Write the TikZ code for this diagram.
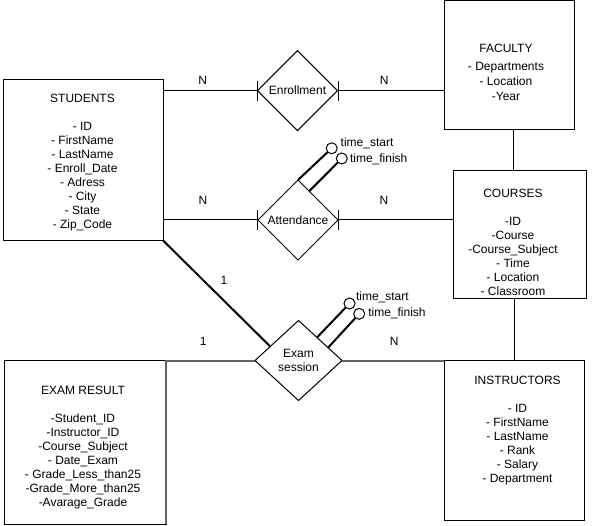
\documentclass[tikz,border=0pt]{standalone}
\usepackage{fontspec}
\setmainfont{Liberation Sans}
\usetikzlibrary{shapes.geometric,arrows.meta,calc}
\definecolor{linegray}{RGB}{100,100,100}
\begin{document}
\begin{tikzpicture}[x=1pt,y=-1pt,line width=1pt,
  every node/.style={font=\fontsize{12}{14}\selectfont, inner sep=0pt, outer sep=0pt},
  entbox/.style={draw, rectangle},
  relbox/.style={draw, diamond, aspect=1, fill=white},
  attrcirc/.style={draw, circle, minimum size=11pt, fill=white},
  thickline/.style={line width=2pt},
  grayline/.style={line width=2pt, draw=linegray},
  tick/.style={-{Bar[width=20pt]}},
  ticks/.style={{Bar[width=20pt]}-}
]
\fill[white] (0,0) rectangle (594,526);

% entity boxes
\node[entbox, minimum width=160.3pt, minimum height=160.7pt] (stud) at (83.15,160.35) {};
\node[entbox, minimum width=130pt, minimum height=128.8pt] (fac) at (509,65.1) {};
\node[entbox, minimum width=133.7pt, minimum height=128pt] (cou) at (519.85,235) {};
\node[entbox, minimum width=140pt, minimum height=160pt] (ins) at (514,440.5) {};
\node[entbox, minimum width=162pt, minimum height=163.5pt] (exr) at (85,442.25) {};

% entity texts
\node[align=center] (studtxt) at (82.5,162.2) {STUDENTS\\[14pt]- ID\\- FirstName\\- LastName\\- Enroll\_Date\\- Adress\\- City\\- State\\- Zip\_Code};
\node[align=center, font=\fontsize{12}{15}\selectfont] (factxt) at (506,72.3) {FACULTY\\[3pt]- Departments\\- Location\\-Year};
\node[align=center] (coutxt) at (513,242.5) {COURSES\\[14pt]-ID\\-Course\\-Course\_Subject\\- Time\\- Location\\- Classroom};
\node[align=center] (exrtxt) at (83,447.3) {EXAM RESULT\\[14pt]-Student\_ID\\-Instructor\_ID\\-Course\_Subject\\- Date\_Exam\\- Grade\_Less\_than25\\-Grade\_More\_than25\\-Avarage\_Grade};
\node[align=center] (instxt) at (517.5,430.3) {INSTRUCTORS\\[14pt]- ID\\- FirstName\\- LastName\\- Rank\\- Salary\\- Department};

% relationships
\node[relbox, minimum width=80pt, minimum height=80pt] (enr) at (297.5,90.7) {Enrollment};
\node[relbox, minimum width=80pt, minimum height=80pt] (att) at (298,220) {Attendance};
\node[relbox, minimum width=87pt, minimum height=80pt, align=center] (ex) at (298.5,360.5) {Exam\\session};

% connectors
\draw[tick] (enr.west -| stud.east) -- (enr.west);
\draw[ticks] (enr.east) -- (enr.east -| fac.west);
\draw[tick] (att.west -| stud.east) -- (att.west);
\draw[ticks] (att.east) -- (att.east -| cou.west);
\draw ([xshift=4pt]fac.south) -- ([xshift=4pt]fac.south |- cou.north);
\draw (ins.north |- cou.south) -- (ins.north);
\draw[thickline] (stud.south east) -- ($(ex.west)!0.35!(ex.north)$);
\draw[grayline] (ex.west) -- (exr.north east) -- (exr.south east);
\draw[grayline] (ex.east) -- (ins.north west);

% attributes of Attendance
\node[attrcirc] (a1) at (331.7,148.3) {};
\node[attrcirc] (a2) at (341.8,158.5) {};
\draw[thickline] (att.north) -- (a1);
\draw[thickline] ($(att.north)!0.28!(att.east)$) -- (a2);
\node[anchor=west] (a1l) at (340.7,143.8) {time\_start};
\node[anchor=west] (a2l) at (350,159.2) {time\_finish};

% attributes of Exam session
\node[attrcirc] (e1) at (349.5,303.5) {};
\node[attrcirc] (e2) at (359.2,313.8) {};
\draw[thickline] ($(ex.north)!0.425!(ex.east)$) -- (e1);
\draw[thickline] ($(ex.north)!0.68!(ex.east)$) -- (e2);
\node[anchor=west] (e1l) at (356,297.5) {time\_start};
\node[anchor=west] (e2l) at (368.3,313.7) {time\_finish};

% cardinalities
\node (c1) at (202.7,80.7) {N};
\node (c2) at (384.3,80.7) {N};
\node (c3) at (203,200.7) {N};
\node (c4) at (384,200.7) {N};
\node (c5) at (203.3,341.7) {1};
\node (c6) at (394.3,341.7) {N};
\node (c7) at (224,280.7) {1};
\end{tikzpicture}
\end{document}
